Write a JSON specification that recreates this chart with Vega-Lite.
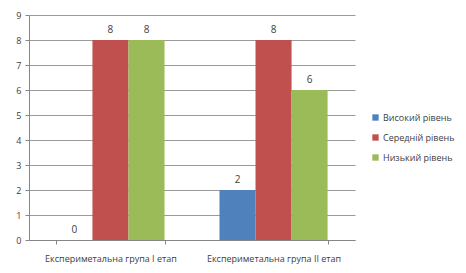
{
  "$schema": "https://vega.github.io/schema/vega-lite/v6.json",
  "autosize": {"type": "none"},
  "width": 326,
  "height": 225,
  "padding": {"left": 29, "top": 15, "right": 111, "bottom": 33},
  "background": "white",
  "config": {
    "font": "Open Sans",
    "view": {"stroke": null},
    "axis": {"labelFont": "Open Sans", "labelFontSize": 9, "labelColor": "#404040", "domainColor": "#868686", "tickColor": "#868686", "gridColor": "#9a9a9a", "gridWidth": 1}
  },
  "data": {"values": [
    {"group": "Експериметальна група I етап", "level": "Високий рівень", "value": 0},
    {"group": "Експериметальна група I етап", "level": "Середній рівень", "value": 8},
    {"group": "Експериметальна група I етап", "level": "Низький рівень", "value": 8},
    {"group": "Експериметальна група II етап", "level": "Високий рівень", "value": 2},
    {"group": "Експериметальна група II етап", "level": "Середній рівень", "value": 8},
    {"group": "Експериметальна група II етап", "level": "Низький рівень", "value": 6}
  ]},
  "encoding": {
    "x": {"field": "group", "type": "nominal", "title": null,
      "scale": {"paddingInner": 0.337, "paddingOuter": 0.168},
      "axis": {"labelAngle": 0, "tickBand": "extent", "tickSize": 4, "labelPadding": 10, "grid": false}},
    "xOffset": {"field": "level", "type": "nominal", "sort": ["Високий рівень", "Середній рівень", "Низький рівень"]},
    "y": {"field": "value", "type": "quantitative", "title": null,
      "scale": {"domain": [0, 9], "nice": false},
      "axis": {"values": [0,1,2,3,4,5,6,7,8,9], "labelOverlap": false, "tickSize": 4, "labelPadding": 4, "grid": true}}
  },
  "layer": [
    {"mark": {"type": "bar"},
     "encoding": {
       "color": {"field": "level", "type": "nominal", "sort": ["Високий рівень", "Середній рівень", "Низький рівень"],
         "scale": {"domain": ["Високий рівень", "Середній рівень", "Низький рівень"], "range": ["#4F81BD", "#C0504D", "#9BBB59"]},
         "legend": {"title": null, "orient": "none", "legendX": 342, "legendY": 98, "symbolType": "square", "symbolSize": 40, "labelFontSize": 9, "labelColor": "#404040", "rowPadding": 10, "labelOffset": 3, "symbolStrokeWidth": 0}
       }
     }},
    {"mark": {"type": "text", "dy": -10, "fontSize": 10, "color": "#404040"},
     "encoding": {"text": {"field": "value", "type": "quantitative"}}}
  ]
}
